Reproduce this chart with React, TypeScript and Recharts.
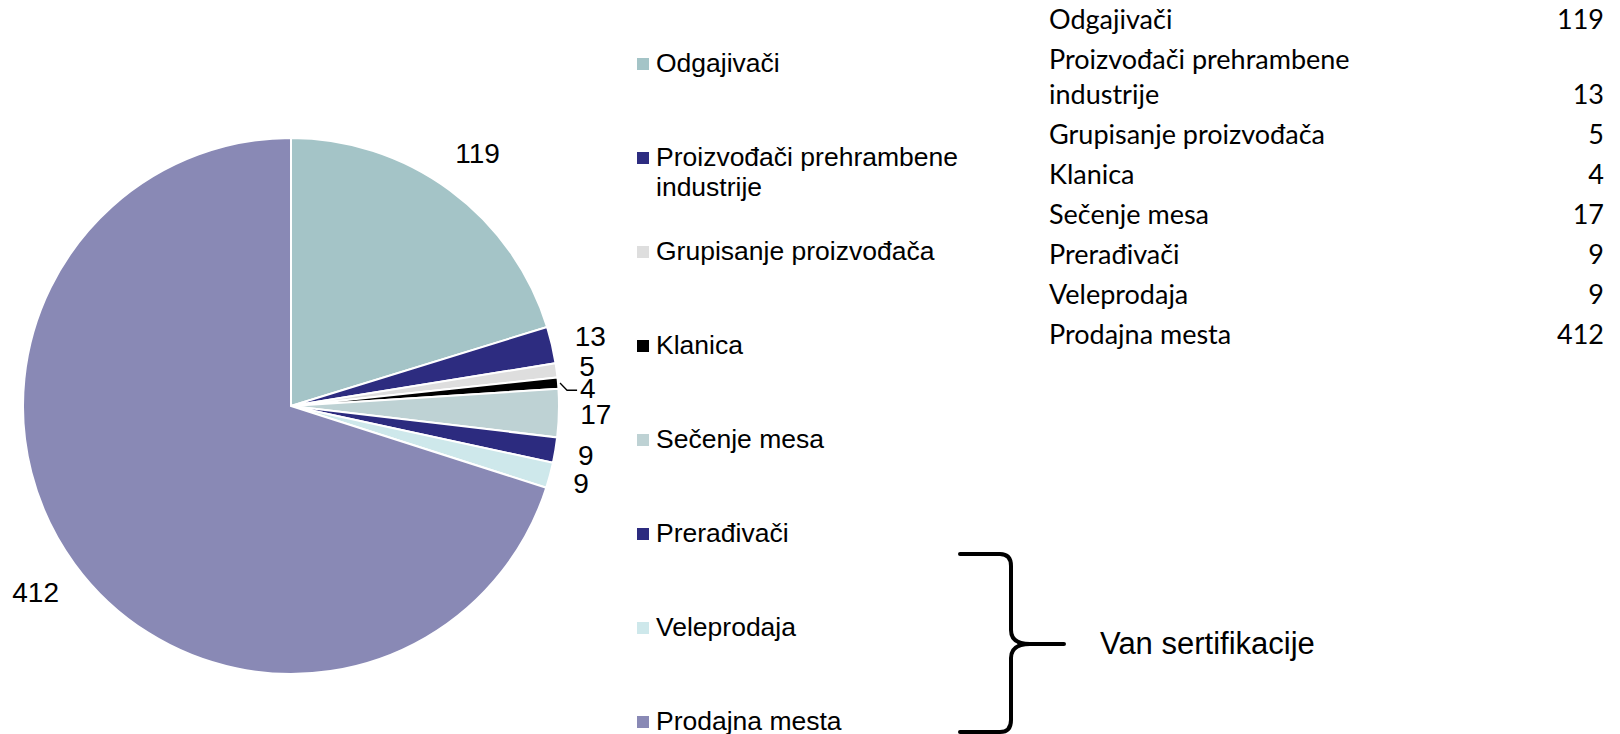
import { Cell, Legend, Pie, PieChart } from 'recharts'

// Categories and counts
const CATEGORIES = [
  'Odgajivači',
  'Proizvođači prehrambene industrije',
  'Grupisanje proizvođača',
  'Klanica',
  'Sečenje mesa',
  'Prerađivači',
  'Veleprodaja',
  'Prodajna mesta',
]
const VALUES = [119, 13, 5, 4, 17, 9, 9, 412]

const COLORS = [
  '#a4c4c7',
  '#2d2c80',
  '#dedede',
  '#000000',
  '#bed2d4',
  '#2c2b7f',
  '#cee8eb',
  '#8989b5',
]

const BRACE_NOTE = 'Van sertifikacije'

const W = 1620
const H = 734
const CX = 291
const CY = 406
const R = 268
const LABEL_FONT = 28
const LABEL_GAP = 21
const MIN_LABEL_SPACING = 22

const rows = CATEGORIES.map((name, i) => ({ name, value: VALUES[i], fill: COLORS[i] }))

type Placement = { x: number; y: number; ideal: number; angle: number }

// Work out label spots roughly the way the spreadsheet does: just outside
// the slice along its mid angle, then nudge down labels that would overlap.
function placeLabels(): Placement[] {
  const total = VALUES.reduce((a, b) => a + b, 0)
  let start = 90
  const out: Placement[] = VALUES.map((v) => {
    const sweep = (v / total) * 360
    const mid = start - sweep / 2
    start -= sweep
    const rad = (mid * Math.PI) / 180
    const w = String(v).length * 0.556 * LABEL_FONT
    const ext = Math.abs(Math.cos(rad)) * (w / 2) + Math.abs(Math.sin(rad)) * (LABEL_FONT / 2)
    const d = R + LABEL_GAP + ext
    const x = CX + d * Math.cos(rad)
    const y = CY - d * Math.sin(rad)
    return { x, y, ideal: y, angle: mid }
  })
  for (const side of [1, -1]) {
    const idx = out
      .map((p, i) => i)
      .filter((i) => Math.sign(Math.cos((out[i].angle * Math.PI) / 180)) === side)
      .sort((a, b) => out[a].y - out[b].y)
    for (let k = 1; k < idx.length; k++) {
      const prev = out[idx[k - 1]]
      const cur = out[idx[k]]
      if (cur.y - prev.y < MIN_LABEL_SPACING) cur.y = prev.y + MIN_LABEL_SPACING
    }
  }
  return out
}

const PLACEMENTS = placeLabels()

function SliceLabel(props: any) {
  const { index, value, midAngle } = props
  const p = PLACEMENTS[index]
  const moved = Math.abs(p.y - p.ideal) >= 4
  let leader = null
  if (moved) {
    const rad = (midAngle * Math.PI) / 180
    const sx = CX + (R + 2) * Math.cos(rad)
    const sy = CY - (R + 2) * Math.sin(rad)
    const w = String(value).length * 0.556 * LABEL_FONT
    const ex = p.x - w / 2 - 3
    leader = (
      <path
        d={`M${sx},${sy} L${sx + 7},${p.y + 2} L${ex},${p.y + 2}`}
        stroke="#000"
        strokeWidth={1.3}
        fill="none"
      />
    )
  }
  return (
    <g>
      {leader}
      <text
        x={p.x}
        y={p.y}
        textAnchor="middle"
        dominantBaseline="central"
        fontFamily="'Liberation Sans', Arial, sans-serif"
        fontSize={LABEL_FONT}
        fill="#000"
      >
        {value}
      </text>
    </g>
  )
}

function LegendList(props: any) {
  const payload = props.payload || []
  return (
    <ul style={{ listStyle: 'none', margin: 0, padding: 0, textAlign: 'left' }}>
      {payload.map((entry: any, i: number) => (
        <li
          key={entry.value}
          style={{ height: 94, display: 'flex', alignItems: 'flex-start' }}
        >
          <span
            style={{
              width: 12,
              height: 12,
              flex: 'none',
              marginTop: 10,
              marginRight: 7,
              background: entry.color || COLORS[i],
            }}
          />
          <span
            style={{
              width: 315,
              lineHeight: '30px',
              fontSize: 26.5,
              fontFamily: "'Liberation Sans', Arial, sans-serif",
              color: '#000',
            }}
          >
            {entry.value}
          </span>
        </li>
      ))}
    </ul>
  )
}

function DataTable() {
  const font = "Lato, 'Open Sans', sans-serif"
  return (
    <table
      style={{
        position: 'absolute',
        left: 1049,
        top: -2,
        width: 555,
        borderCollapse: 'collapse',
        fontFamily: font,
        fontSize: 27,
        color: '#000',
      }}
    >
      <tbody>
        {CATEGORIES.map((name, i) => (
          <tr key={name}>
            <td style={{ width: 330, padding: '2.5px 0', lineHeight: '35px', verticalAlign: 'bottom' }}>
              {name}
            </td>
            <td
              style={{
                padding: '2.5px 0',
                lineHeight: '35px',
                textAlign: 'right',
                verticalAlign: 'bottom',
              }}
            >
              {VALUES[i]}
            </td>
          </tr>
        ))}
      </tbody>
    </table>
  )
}

function Brace() {
  return (
    <svg
      width={W}
      height={H}
      style={{ position: 'absolute', left: 0, top: 0, pointerEvents: 'none' }}
    >
      <path
        d="M960,554 L1000,554 Q1011,554 1011,566 L1011,630 Q1011,644 1030,644 L1064,644 M1030,644 Q1011,644 1011,658 L1011,720 Q1011,732 1000,732 L960,732"
        stroke="#000"
        strokeWidth={4}
        fill="none"
        strokeLinecap="round"
      />
      <text
        x={1100}
        y={643}
        dominantBaseline="central"
        fontFamily="'Liberation Sans', Arial, sans-serif"
        fontSize={31}
        fill="#000"
      >
        {BRACE_NOTE}
      </text>
    </svg>
  )
}

export default function App() {
  return (
    <div
      style={{
        position: 'absolute',
        left: 0,
        top: 0,
        width: W,
        height: H,
        background: '#fff',
        overflow: 'hidden',
      }}
    >
      <PieChart width={W} height={H} margin={{ top: 0, right: 0, bottom: 0, left: 0 }}>
        <Pie
          data={rows}
          dataKey="value"
          nameKey="name"
          cx={CX}
          cy={CY}
          outerRadius={R}
          startAngle={90}
          endAngle={-270}
          stroke="#fff"
          strokeWidth={2}
          label={SliceLabel}
          labelLine={false}
          isAnimationActive={false}
        >
          {rows.map((r) => (
            <Cell key={r.name} fill={r.fill} />
          ))}
        </Pie>
        <Legend
          layout="vertical"
          align="right"
          verticalAlign="top"
          content={LegendList}
          itemSorter={(item: any) => CATEGORIES.indexOf(item.value)}
          wrapperStyle={{ left: 637, top: 48, width: 340, right: 'auto' }}
        />
      </PieChart>
      <DataTable />
      <Brace />
    </div>
  )
}
